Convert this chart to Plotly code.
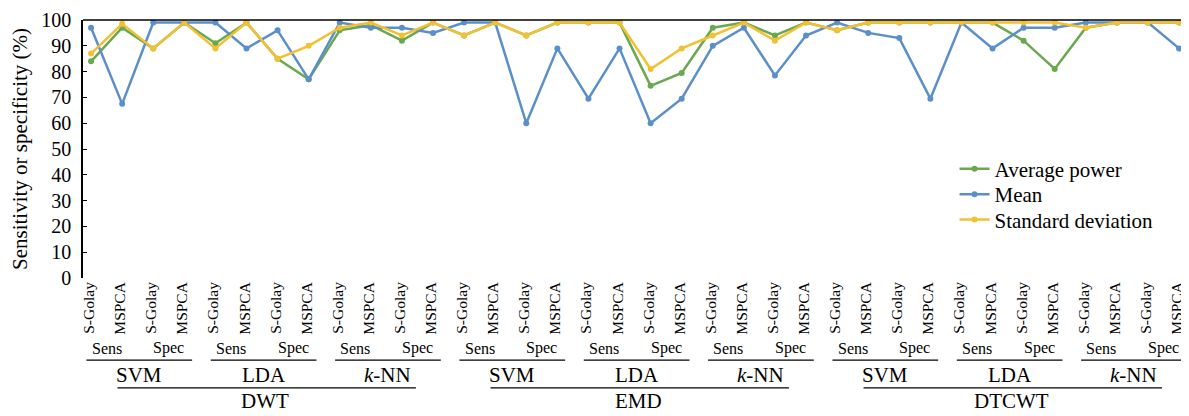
import plotly.graph_objects as go

# ---- data ----
transforms = ["DWT", "EMD", "DTCWT"]
classifiers = ["SVM", "LDA", "<i>k</i>-NN"]
measures = ["Sens", "Spec"]
filters = ["S-Golay", "MSPCA"]

avg_power = [84, 97, 89, 99, 91, 99, 85, 77, 96, 98, 92, 99,
             94, 99, 94, 99, 99, 99, 74.5, 79.5, 97, 99, 94, 99,
             96, 99, 99, 99, 99, 99, 92, 81, 97, 99, 99, 99]
mean_vals = [97, 67.5, 99, 99, 99, 89, 96, 77, 99, 97, 97, 95,
             99, 99, 60, 89, 69.5, 89, 60, 69.5, 90, 97, 78.5, 94,
             99, 95, 93, 69.5, 99, 89, 97, 97, 99, 99, 99, 89]
std_vals = [87, 98.5, 89, 99, 89, 99, 85, 90, 97, 99, 94, 99,
            94, 99, 94, 99, 99, 99, 81, 89, 94, 99, 92, 99,
            96, 99, 99, 99, 99, 99, 99, 99, 97, 99, 99, 99]

series_names = ["Average power", "Mean", "Standard deviation"]
series_vals = [avg_power, mean_vals, std_vals]
series_colors = ["#6aa84f", "#5b8fc9", "#f2c033"]

y_ticks = list(range(0, 101, 10))

# ---- build category positions ----
tick_text = []
for t in transforms:
    for c in classifiers:
        for m in measures:
            for f in filters:
                tick_text.append(f)
xs = list(range(len(tick_text)))

FONT = "Liberation Serif, Times New Roman, serif"

legend_ids = ["legend", "legend2", "legend3"]
legend_tops = [0.502, 0.403, 0.305]

fig = go.Figure()
for name, vals, col, lid in zip(series_names, series_vals, series_colors, legend_ids):
    fig.add_trace(go.Scatter(
        x=xs, y=vals, name=name, mode="lines+markers",
        line=dict(color=col, width=2.5),
        marker=dict(color=col, size=6),
        legend=lid,
    ))

annotations = []
shapes = []

# top border line
shapes.append(dict(type="line", xref="paper", yref="paper", x0=0, x1=1, y0=1, y1=1,
                   line=dict(color="black", width=1.5)))

y_meas = -0.272
y_meas_line = -0.318
y_cls = -0.376
y_cls_line = -0.426
y_tr = -0.478

for ti, t in enumerate(transforms):
    base_t = ti * 12
    for ci, c in enumerate(classifiers):
        base = base_t + ci * 4
        for mi, m in enumerate(measures):
            annotations.append(dict(x=base + mi * 2 + 0.5, y=y_meas, xref="x", yref="paper",
                                    text=m, showarrow=False, xanchor="center", yanchor="middle",
                                    font=dict(family=FONT, size=16, color="black")))
        shapes.append(dict(type="line", xref="x", yref="paper", x0=base - 0.15, x1=base + 3.25,
                           y0=y_meas_line, y1=y_meas_line, line=dict(color="black", width=1.2)))
        annotations.append(dict(x=base + 1.55, y=y_cls, xref="x", yref="paper",
                                text=c, showarrow=False, xanchor="center", yanchor="middle",
                                font=dict(family=FONT, size=21, color="black")))
    shapes.append(dict(type="line", xref="x", yref="paper", x0=base_t + 0.85, x1=base_t + 10.45,
                       y0=y_cls_line, y1=y_cls_line, line=dict(color="black", width=1.2)))
    annotations.append(dict(x=base_t + 5.6, y=y_tr, xref="x", yref="paper",
                            text=t, showarrow=False, xanchor="center", yanchor="middle",
                            font=dict(family=FONT, size=21, color="black")))

legend_style = dict(x=0.788, xanchor="left", yanchor="top", bgcolor="rgba(0,0,0,0)",
                    font=dict(family=FONT, size=21, color="black"))

# page body has an 8px default margin, so the figure is sized to fit the window
fig.update_layout(
    width=1181, height=408,
    margin=dict(l=75, r=0, t=12, b=138),
    paper_bgcolor="white", plot_bgcolor="white",
    font=dict(family=FONT, color="black"),
    showlegend=True,
    legend=dict(y=legend_tops[0], **legend_style),
    legend2=dict(y=legend_tops[1], **legend_style),
    legend3=dict(y=legend_tops[2], **legend_style),
    annotations=annotations,
    shapes=shapes,
    xaxis=dict(
        range=[-0.26, 35.32], tickmode="array", tickvals=xs, ticktext=tick_text,
        tickangle=-90, tickfont=dict(family=FONT, size=15.5, color="black"),
        showgrid=False, zeroline=False, showline=False, ticks="",
        ticklabeloverflow="allow", ticklabelshift=-2,
    ),
    yaxis=dict(
        range=[0, 100], tickmode="array", tickvals=y_ticks,
        tickfont=dict(family=FONT, size=20, color="black"),
        showgrid=False, zeroline=False, showline=True, linecolor="black", linewidth=1.5,
        ticks="inside", ticklen=4, tickcolor="black", ticklabelstandoff=6,
        title=dict(text="Sensitivity or specificity (%)", font=dict(family=FONT, size=21, color="black"),
                   standoff=8),
    ),
)

fig.write_html("out.html")
